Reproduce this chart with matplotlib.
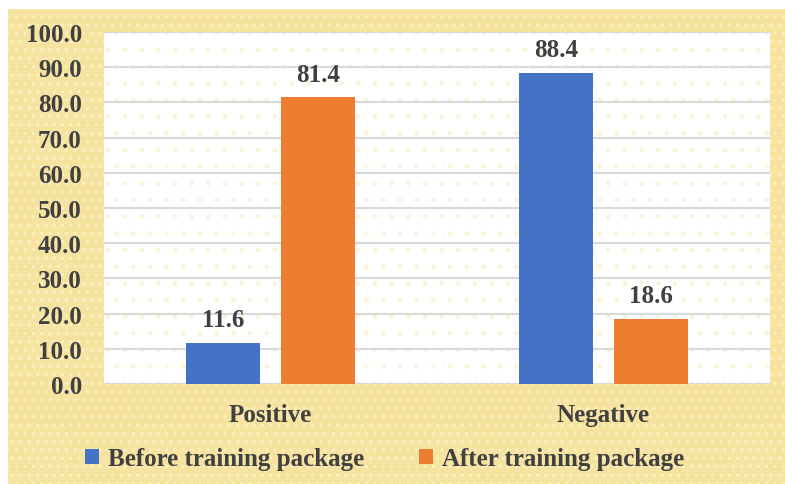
import matplotlib
matplotlib.use("Agg")
import matplotlib.pyplot as plt
import matplotlib.patches as mpatches
import numpy as np

# Datos del grafico
categorias = ["Positive", "Negative"]
antes = [11.6, 88.4]
despues = [81.4, 18.6]
series = ["Before training package", "After training package"]

azul = "#4472C4"
naranja = "#ED7D31"
gris_texto = "#404040"

plt.rcParams["font.family"] = ["Liberation Serif", "DejaVu Serif"]
plt.rcParams["font.weight"] = "bold"
plt.rcParams["hatch.linewidth"] = 1.0

fig = plt.figure(figsize=(7.85, 4.85), dpi=100)
fig.patch.set_facecolor("white")

# Fondo amarillo con textura de puntos
fondo = mpatches.Rectangle((8 / 785, 0), 1 - 8 / 785, 1 - 10 / 485, transform=fig.transFigure,
                           facecolor="#F6E3A0", edgecolor="#FBF0C6", hatch="..", linewidth=0, zorder=-10)
fig.patches.append(fondo)

ax = fig.add_axes([104 / 785, 1 - 385 / 485, 666 / 785, 352 / 485])
ax.set_facecolor("white")
ax.patch.set_zorder(0)
puntos = mpatches.Rectangle((0, 0), 1, 1, transform=ax.transAxes, facecolor="white",
                            edgecolor="#FAF4DC", hatch=".", linewidth=0, zorder=0.1)
ax.add_patch(puntos)

x = np.arange(len(categorias))
ancho = 0.22
desp = 0.143
b1 = ax.bar(x - desp, antes, ancho, color=azul, label=series[0], zorder=3)
b2 = ax.bar(x + desp, despues, ancho, color=naranja, label=series[1], zorder=3)

for barras in (b1, b2):
    for b in barras:
        ax.text(b.get_x() + b.get_width() / 2, b.get_height() + 3.4, f"{b.get_height():.1f}",
                ha="center", va="bottom", fontsize=18, fontweight="bold", color=gris_texto)

ax.set_xlim(-0.5, 1.5)
ax.set_ylim(0, 100)
ax.set_yticks(np.arange(0, 101, 10))
ax.set_yticklabels([f"{v:.1f}" for v in np.arange(0, 101, 10)])
ax.set_xticks(x)
ax.set_xticklabels(categorias)
ax.tick_params(axis="both", length=0, labelsize=18, colors=gris_texto)
ax.tick_params(axis="y", pad=16)
ax.tick_params(axis="x", pad=14)
ax.grid(axis="y", color="#D9D9D9", linewidth=1.5, zorder=1)
ax.set_axisbelow(True)
for s in ax.spines.values():
    s.set_visible(False)

leg = fig.legend(handles=[b1, b2], labels=series, loc="center", bbox_to_anchor=(0.49, 1 - 460 / 485),
                 ncol=2, frameon=False, fontsize=18, handlelength=0.55, handleheight=0.55,
                 handletextpad=0.35, columnspacing=2.2)
for t in leg.get_texts():
    t.set_color(gris_texto)

fig.savefig("out.png", dpi=100)
